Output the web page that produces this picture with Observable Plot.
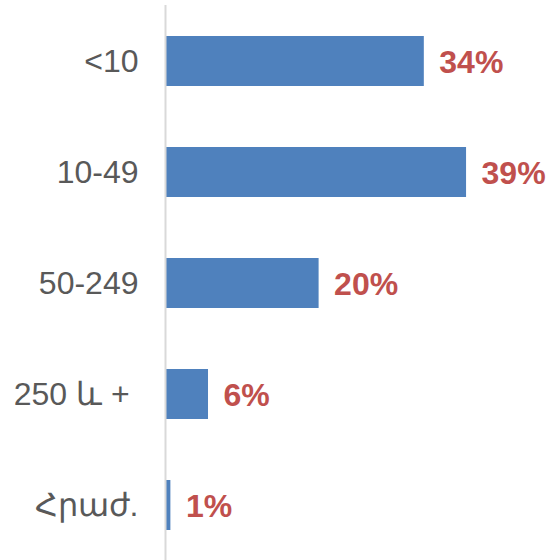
<!DOCTYPE html>
<html>
<head>
<meta charset="utf-8">
<script src="https://cdn.jsdelivr.net/npm/d3@7"></script>
<script src="https://cdn.jsdelivr.net/npm/@observablehq/plot@0.6"></script>
<style>
  html, body { margin: 0; padding: 0; background: #fff; }
  #chart { width: 551px; height: 560px; }
</style>
</head>
<body>
<div id="chart"></div>
<script>
const categories = ["<10", "10-49", "50-249", "250 և +\u00a0", "Հրաժ."];
const values = [33.7, 39.2, 20.0, 5.6, 0.7];
const valueLabels = ["34%", "39%", "20%", "6%", "1%"];

const data = categories.map((c, i) => ({ category: c, value: values[i], label: valueLabels[i] }));

const chart = Plot.plot({
  width: 551,
  height: 560,
  marginTop: 5,
  marginBottom: 0,
  marginLeft: 165,
  marginRight: 2,
  style: { fontFamily: "'Liberation Sans', Arial, sans-serif", background: "#fff" },
  x: { domain: [0, 50], axis: null },
  y: { domain: categories, padding: 0.55, paddingOuter: 0.275, label: null },
  marks: [
    Plot.barX(data, { x: "value", y: "category", fill: "#4f81bd" }),
    Plot.ruleX([0], { stroke: "#d9d9d9", strokeWidth: 2 }),
    Plot.axisY({ tickSize: 0, tickPadding: 27, fontSize: 32, fill: "#595959", label: null }),
    Plot.text(data, {
      x: "value", y: "category", text: "label",
      textAnchor: "start", dx: 15, dy: 1,
      fill: "#c0504d", fontWeight: "bold", fontSize: 32
    })
  ]
});
document.getElementById("chart").appendChild(chart);
</script>
</body>
</html>
